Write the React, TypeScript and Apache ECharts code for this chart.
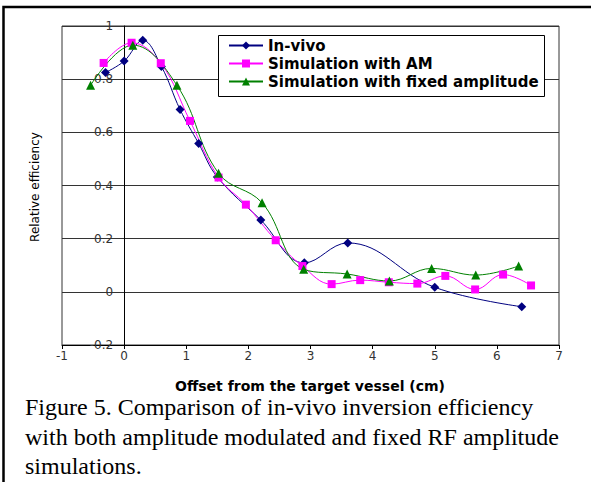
import React, { useEffect, useRef } from "react";
import * as echarts from "echarts";

const seriesNames = ["In-vivo", "Simulation with AM", "Simulation with fixed amplitude"];

const inVivoX = [-0.3, 0, 0.3, 0.6, 0.9, 1.2, 1.5, 2.2, 2.9, 3.6, 5.0, 6.4];
const inVivoY = [0.825, 0.868, 0.946, 0.848, 0.686, 0.558, 0.432, 0.27, 0.109, 0.184, 0.017, -0.056];

const amX = [-0.33, 0.12, 0.59, 1.06, 1.52, 1.96, 2.44, 2.87, 3.34, 3.8, 4.26, 4.72, 5.17, 5.65, 6.1, 6.55];
const amY = [0.861, 0.937, 0.86, 0.643, 0.43, 0.328, 0.194, 0.097, 0.029, 0.044, 0.036, 0.031, 0.06, 0.009, 0.065, 0.024];

const fixedX = [-0.54, 0.14, 0.85, 1.52, 2.22, 2.89, 3.59, 4.27, 4.95, 5.66, 6.35];
const fixedY = [0.777, 0.928, 0.777, 0.446, 0.335, 0.085, 0.067, 0.041, 0.088, 0.063, 0.097];

const xAxisTitle = "Offset from the target vessel (cm)";
const yAxisTitle = "Relative efficiency";
const captionLines = [
  "Figure 5. Comparison of in-vivo inversion efficiency",
  "with both amplitude modulated and fixed RF amplitude",
  "simulations.",
];

const zip = (xs: number[], ys: number[]) => xs.map((x, i) => [x, ys[i]]);

export default function App() {
  const ref = useRef<HTMLDivElement>(null);
  useEffect(() => {
    if (!ref.current) return;
    const chart = echarts.init(ref.current, undefined, { renderer: "svg" });
    const lineColor = "#333";
    const gridLeft = 62;
    const gridWidth = 497;
    const xMin = -1;
    const xMax = 7;
    const tickFont = { fontFamily: "DejaVu Sans", fontSize: 12, color: "#333" };
    const mkSeries = (name: string, data: number[][], color: string, symbol: string, size: number) => ({
      name,
      type: "line",
      data,
      smooth: 0.4,
      symbol,
      symbolSize: size,
      showSymbol: true,
      lineStyle: { color, width: 1 },
      itemStyle: { color },
      z: 2,
    });
    chart.setOption({
      animation: false,
      backgroundColor: "#fff",
      grid: {
        left: gridLeft,
        top: 26,
        width: gridWidth,
        height: 319,
        show: true,
        borderColor: lineColor,
        borderWidth: 1,
        backgroundColor: "transparent",
      },
      xAxis: {
        type: "value",
        min: xMin,
        max: xMax,
        interval: 1,
        axisLine: { onZero: false, lineStyle: { color: "#000", width: 1 } },
        axisTick: { show: true, length: 4, lineStyle: { color: "#000" } },
        axisLabel: { ...tickFont, margin: 5 },
        splitLine: { show: false },
      },
      yAxis: {
        type: "value",
        min: -0.2,
        max: 1,
        interval: 0.2,
        // place the vertical axis at x = 0, as in the original
        offset: -((0 - xMin) / (xMax - xMin)) * gridWidth,
        axisLine: { onZero: false, lineStyle: { color: "#000", width: 1 } },
        axisTick: { show: false },
        axisLabel: { ...tickFont, margin: 11 },
        splitLine: { show: true, lineStyle: { color: lineColor, width: 1 } },
      },
      legend: {
        left: 228,
        top: 38,
        orient: "vertical",
        itemWidth: 34,
        itemHeight: 10,
        itemGap: 3,
        padding: 0,
        z: 5,
        textStyle: { fontFamily: "DejaVu Sans", fontWeight: "bold", fontSize: 15, color: "#000" },
        data: seriesNames,
      },
      graphic: [
        {
          type: "rect",
          z: 4,
          shape: { x: 218.5, y: 35.5, width: 326, height: 61 },
          style: { fill: "#fff", stroke: "#000", lineWidth: 1 },
        },
        {
          type: "polyline",
          z: 10,
          shape: { points: [[3.5, 482], [3.5, 7], [591, 7]] },
          style: { stroke: "#000", lineWidth: 2.5, fill: "none" },
        },
        {
          type: "text",
          x: 35,
          y: 187,
          rotation: Math.PI / 2,
          style: {
            text: yAxisTitle,
            fontFamily: "DejaVu Sans",
            fontSize: 12,
            fill: "#000",
            textAlign: "center",
            align: "center",
            textVerticalAlign: "middle",
            verticalAlign: "middle",
          },
        },
        {
          type: "text",
          x: 310,
          y: 386,
          style: {
            text: xAxisTitle,
            fontFamily: "DejaVu Sans",
            fontWeight: "bold",
            fontSize: 14,
            fill: "#000",
            textAlign: "center",
            align: "center",
            textVerticalAlign: "middle",
            verticalAlign: "middle",
          },
        },
        ...captionLines.map((t, i) => ({
          type: "text",
          x: 25,
          y: 407 + i * 29.5,
          style: {
            text: t,
            fontFamily: "Liberation Serif",
            fontSize: 24,
            fill: "#000",
            textAlign: "left",
            align: "left",
            textVerticalAlign: "middle",
            verticalAlign: "middle",
          },
        })),
      ],
      series: [
        mkSeries(seriesNames[0], zip(inVivoX, inVivoY), "#000080", "diamond", 9),
        mkSeries(seriesNames[1], zip(amX, amY), "#ff00ff", "rect", 8),
        mkSeries(seriesNames[2], zip(fixedX, fixedY), "#008000", "triangle", 9),
      ],
    });
    return () => chart.dispose();
  }, []);
  return (
    <div
      ref={ref}
      style={{ position: "absolute", left: 0, top: 0, width: 591, height: 482, background: "#fff" }}
    />
  );
}
